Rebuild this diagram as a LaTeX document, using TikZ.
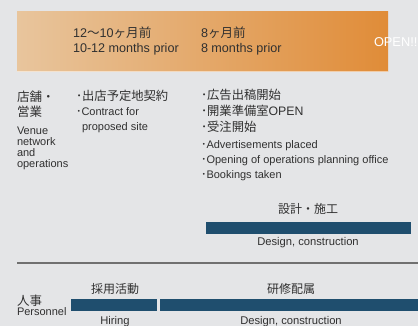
\documentclass[tikz,border=0pt]{standalone}
\usepackage{fontspec}
\setmainfont{Liberation Sans}
\newfontfamily\jp{Noto Sans CJK JP}
\definecolor{bg}{RGB}{228,229,231}
\definecolor{txt}{RGB}{48,48,48}
\definecolor{barc}{RGB}{31,78,110}
\definecolor{orL}{RGB}{232,197,157}
\definecolor{orR}{RGB}{224,140,56}
\definecolor{rulec}{RGB}{112,112,112}
\begin{document}
\begin{tikzpicture}[x=1pt,y=-1pt,
  every node/.style={inner sep=0pt,outer sep=0pt,text=txt},
  hdr/.style={font=\fontsize{12.6}{14}\selectfont,anchor=base west},
  cat/.style={font=\jp\fontsize{12.5}{14}\selectfont,anchor=base west},
  jpl/.style={font=\jp\fontsize{12.3}{13}\selectfont,anchor=base west},
  jpc/.style={font=\jp\fontsize{12}{13}\selectfont,anchor=base},
  en/.style={font=\fontsize{11}{11}\selectfont,anchor=base west},
  enc/.style={font=\fontsize{11.2}{11}\selectfont,anchor=base},
  barbox/.style={fill=barc,anchor=north west,minimum height=11.5pt}]
\useasboundingbox (0,0) rectangle (418,326);
\clip (0,0) rectangle (418,326);
\fill[bg] (0,0) rectangle (418,326);
% header band
\shade[left color=orL,right color=orR] (17,12) rectangle (388,71.5);
\draw[white,opacity=0.55,line width=1pt] (17,72) -- (388,72);
\node[hdr] (h1a) at (73,38) {12{\jp ～}10{\jp ヶ月前}};
\node[hdr] (h1b) at (73,53) {10-12 months prior};
\node[hdr] (h2a) at (201,38) {8{\jp ヶ月前}};
\node[hdr] (h2b) at (201,53) {8 months prior};
\node[anchor=base west,font=\fontsize{12.8}{14}\selectfont,text=white] (open) at (374,46.5) {OPEN!!};
% venue section
\node[cat] (s1) at (17,102) {店舗・};
\node[cat] (s2) at (17,116.5) {営業};
\node[en] (s3) at (17,135) {Venue};
\node[en] (s4) at (17,146) {network};
\node[en] (s5) at (17,157) {and};
\node[en] (s6) at (17,168) {operations};
\node[jpl] (c1) at (76,100.5) {･出店予定地契約};
\node[en] (c2) at (76,116) {{\jp ･}Contract for};
\node[en] (c3) at (82,130.5) {proposed site};
\node[jpl] (r1) at (201,100) {･広告出稿開始};
\node[jpl] (r2) at (201,116) {･開業準備室{\fontspec{Liberation Sans}OPEN}};
\node[jpl] (r3) at (201,132) {･受注開始};
\node[en] (r4) at (201,148.3) {{\jp ･}Advertisements placed};
\node[en] (r5) at (201,163.3) {{\jp ･}Opening of operations planning office};
\node[en] (r6) at (201,178.3) {{\jp ･}Bookings taken};
% design bar
\node[jpc] (d1) at (308,213.5) {設計・施工};
\node[barbox,minimum width=205pt] (b1) at (206,222) {};
\node[enc] (d2) at (308,245) {Design, construction};
% rule
\coordinate (ra) at (17,263);
\coordinate (rb) at (418,263);
\draw[rulec,line width=1.3pt] (ra) -- (rb);
% personnel
\node[cat] (p1) at (17,305) {人事};
\node[en] (p2) at (17,315.7) {Personnel};
\node[jpc] (p3) at (115,293.5) {採用活動};
\node[barbox,minimum width=86pt] (b2) at (71,299) {};
\node[barbox,minimum width=260pt] (b3) at (160,299) {};
\node[jpc] (p4) at (291,293.5) {研修配属};
\node[enc] (p5) at (115,324) {Hiring};
\node[enc] (p6) at (291,324) {Design, construction};
\end{tikzpicture}
\end{document}
